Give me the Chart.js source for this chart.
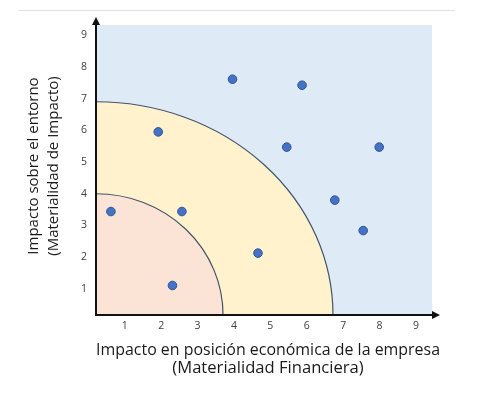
<!DOCTYPE html>
<html>
<head>
<meta charset="utf-8">
<script src="https://cdn.jsdelivr.net/npm/chart.js@4.4.1/dist/chart.umd.min.js"></script>
<style>
  html, body { margin:0; padding:0; background:#fff; }
  #wrap { position:relative; width:478px; height:395px; }
  #topline { position:absolute; left:18px; top:10px; width:437px; border-top:1px solid #e3e3e3; }
  canvas { position:absolute; left:0; top:0; }
</style>
</head>
<body>
<div id="wrap">
  <div id="topline"></div>
  <canvas id="chart" width="478" height="395"></canvas>
</div>
<script>
// --- Data ---
const xValues = [0.62, 2.31, 1.92, 2.57, 3.96, 4.66, 5.45, 5.87, 6.77, 7.55, 7.99];
const yValues = [3.44, 1.11, 5.95, 3.44, 7.61, 2.13, 5.47, 7.42, 3.80, 2.84, 5.47];
const xTicks = [1, 2, 3, 4, 5, 6, 7, 8, 9];
const yTicks = [1, 2, 3, 4, 5, 6, 7, 8, 9];
// zone boundaries (where each quarter-ring meets the x axis / y axis)
const zoneEdgeX = [3.70, 6.72];
const zoneEdgeY = [4.00, 6.90];
const zoneColors = ['#FBE4D5', '#FFF2CC'];
const bgLimit = {x: 9.44, y: 9.32};

const xMin = 0.21, xMax = 9.66, yMin = 0.18, yMax = 9.57;

const points = xValues.map((x, i) => ({x, y: yValues[i]}));

// background zones + axes with arrows
const zones = {
  id: 'zones',
  beforeDatasetsDraw(chart){
    const {ctx, scales:{x, y}} = chart;
    const ox = x.getPixelForValue(xMin), oy = y.getPixelForValue(yMin);
    ctx.save();
    ctx.fillStyle = '#DEEAF6';
    ctx.fillRect(ox, y.getPixelForValue(bgLimit.y), x.getPixelForValue(bgLimit.x) - ox, oy - y.getPixelForValue(bgLimit.y));
    for(let i = zoneEdgeX.length - 1; i >= 0; i--){
      const rx = x.getPixelForValue(zoneEdgeX[i]) - ox;
      const ry = oy - y.getPixelForValue(zoneEdgeY[i]);
      ctx.beginPath();
      ctx.moveTo(ox, oy);
      ctx.ellipse(ox, oy, rx, ry, 0, -Math.PI/2, 0);
      ctx.closePath();
      ctx.fillStyle = zoneColors[i];
      ctx.fill();
      ctx.beginPath();
      ctx.ellipse(ox, oy, rx, ry, 0, -Math.PI/2, 0);
      ctx.strokeStyle = '#44546A';
      ctx.lineWidth = 1.2;
      ctx.stroke();
    }
    // axes
    const top = chart.chartArea.top, right = chart.chartArea.right;
    ctx.strokeStyle = '#111';
    ctx.fillStyle = '#111';
    ctx.lineWidth = 2;
    ctx.beginPath();
    ctx.moveTo(ox, oy + 1); ctx.lineTo(ox, top + 6);
    ctx.moveTo(ox - 1, oy); ctx.lineTo(right - 6, oy);
    ctx.stroke();
    ctx.beginPath();
    ctx.moveTo(ox, top); ctx.lineTo(ox - 4, top + 8); ctx.lineTo(ox + 4, top + 8); ctx.closePath();
    ctx.fill();
    ctx.beginPath();
    ctx.moveTo(right, oy); ctx.lineTo(right - 8, oy - 4); ctx.lineTo(right - 8, oy + 4); ctx.closePath();
    ctx.fill();
    ctx.restore();
  }
};

const ctx = document.getElementById('chart').getContext('2d');
new Chart(ctx, {
  type: 'scatter',
  data: {datasets: [{
    data: points,
    backgroundColor: '#4472C4',
    borderColor: '#2F5597',
    borderWidth: 1,
    pointRadius: 4.3,
    pointHoverRadius: 4.3
  }]},
  options: {
    responsive: false,
    animation: false,
    events: [],
    layout: {padding: {top: 17, right: 38, left: 0, bottom: 0}},
    plugins: {legend: {display: false}, tooltip: {enabled: false}},
    scales: {
      x: {
        type: 'linear', min: xMin, max: xMax,
        afterBuildTicks: s => { s.ticks = xTicks.map(v => ({value: v})); },
        afterFit: s => { s.height = 80; },
        grid: {display: false, drawTicks: false},
        border: {display: false},
        ticks: {padding: 5, color: '#404040', font: {family: 'Open Sans', size: 10.5}, callback: v => String(v)},
        title: {
          display: true,
          text: ['Impacto en posición económica de la empresa', '(Materialidad Financiera)'],
          color: '#1a1a1a',
          font: {family: 'Open Sans', size: 16.6, lineHeight: 1.12},
          padding: {top: 0, bottom: 17}
        }
      },
      y: {
        type: 'linear', min: yMin, max: yMax,
        afterBuildTicks: s => { s.ticks = yTicks.map(v => ({value: v})); },
        afterFit: s => { s.width = 96; },
        grid: {display: false, drawTicks: false},
        border: {display: false},
        ticks: {padding: 9, color: '#404040', font: {family: 'Open Sans', size: 10.5}, callback: v => String(v)},
        title: {
          display: true,
          text: ['Impacto sobre el entorno', '(Materialidad de Impacto)'],
          color: '#1a1a1a',
          font: {family: 'Open Sans', size: 15, lineHeight: 1.33},
          padding: {top: 23.5, bottom: 0}
        }
      }
    }
  },
  plugins: [zones]
});
</script>
</body>
</html>
